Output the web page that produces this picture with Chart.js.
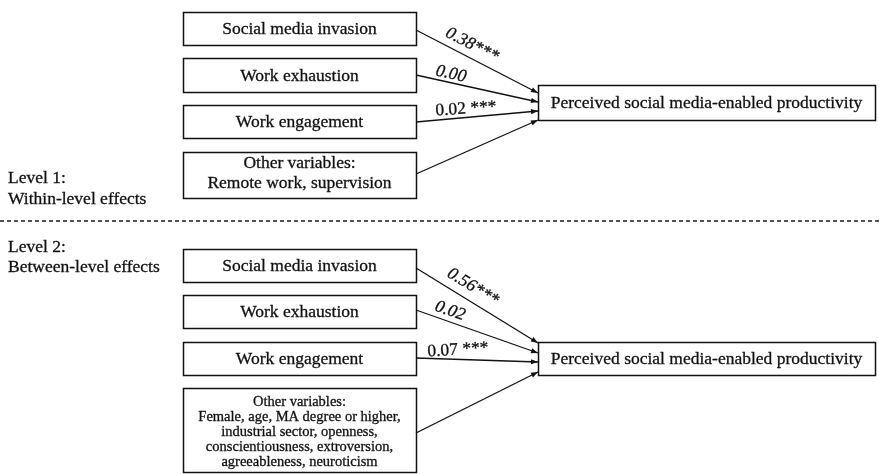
<!DOCTYPE html>
<html>
<head>
<meta charset="utf-8">
<script src="https://cdn.jsdelivr.net/npm/chart.js@4.4.1/dist/chart.umd.min.js"></script>
<style>
  html, body { margin: 0; padding: 0; background: #fff; }
  canvas { display: block; }
</style>
</head>
<body>
<canvas id="paths" width="879" height="474"></canvas>
<script>
// values
const levelLabels = [['Level 1:', 'Within-level effects'], ['Level 2:', 'Between-level effects']];
const predictors = ['Social media invasion', 'Work exhaustion', 'Work engagement'];
const otherVars = [
  ['Other variables:', 'Remote work, supervision'],
  ['Other variables:', 'Female, age, MA degree or higher,', 'industrial sector, openness,',
   'conscientiousness, extroversion,', 'agreeableness, neuroticism']
];
const outcome = 'Perceived social media-enabled productivity';
const coefL1 = [0.38, 0.00, 0.02];
const sigL1 = ['***', '', '***'];
const coefL2 = [0.56, 0.02, 0.07];
const sigL2 = ['***', '', '***'];

// layout (canvas units)
const FONT = '"Liberation Serif", "Times New Roman", serif';
const INK = '#111';
const panels = [
  {
    label: { x: 8, y: [178, 199] },
    boxes: [[183, 12, 233, 33], [183, 58, 233, 34], [183, 105, 233, 33], [183, 152, 233, 46]],
    otherLines: [163, 183], otherSize: 17.5,
    target: [538, 85, 337, 35],
    ends: [93, 102, 111, 120],
    starts: [30, 75, 122, 174],
    coefs: coefL1, sigs: sigL1,
    tags: [{ c: [472, 45], rot: true }, { c: [451, 74], rot: true }, { c: [466, 109], rot: false }]
  },
  {
    label: { x: 8, y: [247, 267] },
    boxes: [[183, 249, 233, 33], [183, 295, 233, 33], [183, 342, 233, 33], [183, 388, 233, 84]],
    otherLines: [402, 417, 432, 447, 462], otherSize: 14.5,
    target: [538, 342, 337, 33],
    ends: [343, 353, 362, 372],
    starts: [268, 310, 358, 433],
    coefs: coefL2, sigs: sigL2,
    tags: [{ c: [473, 287], rot: true }, { c: [450, 311], rot: true }, { c: [458, 350], rot: false }]
  }
];
const dividerY = 221;

const datasets = [];
panels.forEach((p) => {
  p.starts.forEach((sy, i) => {
    datasets.push({
      data: [{ x: p.boxes[i][0] + p.boxes[i][2], y: sy }, { x: p.target[0], y: p.ends[i] }],
      showLine: true, borderColor: INK, borderWidth: 1.3, pointRadius: 0, arrow: true
    });
  });
});
datasets.push({
  data: [{ x: 0, y: dividerY }, { x: 879, y: dividerY }],
  showLine: true, borderColor: '#1a1a1a', borderWidth: 1.4, borderDash: [4, 3], pointRadius: 0
});

// fill + thin stroke to get the heavier print look of the source
function ink(ctx, t, x, y) {
  ctx.fillText(t, x, y);
  ctx.lineWidth = 0.3;
  ctx.strokeText(t, x, y);
}

const diagram = {
  id: 'diagram',
  afterDatasetsDraw(chart) {
    const { ctx, scales: { x, y } } = chart;
    const px = (v) => x.getPixelForValue(v);
    const py = (v) => y.getPixelForValue(v);
    ctx.save();
    ctx.fillStyle = INK;
    ctx.strokeStyle = INK;

    // arrowheads
    chart.data.datasets.forEach((ds) => {
      if (!ds.arrow) return;
      const a = ds.data[0], b = ds.data[1];
      const x1 = px(a.x), y1 = py(a.y), x2 = px(b.x), y2 = py(b.y);
      const ang = Math.atan2(y2 - y1, x2 - x1);
      ctx.save();
      ctx.translate(x2, y2);
      ctx.rotate(ang);
      ctx.beginPath();
      ctx.moveTo(0, 0);
      ctx.lineTo(-7, -2.6);
      ctx.lineTo(-7, 2.6);
      ctx.closePath();
      ctx.fill();
      ctx.restore();
    });

    const box = (r) => {
      ctx.lineWidth = 1.5;
      ctx.strokeRect(Math.round(px(r[0])) + 0.5, Math.round(py(r[1])) + 0.5,
        Math.round(px(r[0] + r[2]) - px(r[0])), Math.round(py(r[1] + r[3]) - py(r[1])));
    };

    ctx.textBaseline = 'middle';
    panels.forEach((p, k) => {
      // level labels
      ctx.textAlign = 'left';
      ctx.font = '17.5px ' + FONT;
      levelLabels[k].forEach((t, j) => ink(ctx, t, px(p.label.x), py(p.label.y[j])));

      // predictor boxes
      ctx.textAlign = 'center';
      predictors.forEach((t, i) => {
        const r = p.boxes[i];
        box(r);
        ink(ctx, t, px(r[0] + r[2] / 2), py(r[1] + r[3] / 2) + 1);
      });
      const ro = p.boxes[3];
      box(ro);
      ctx.font = p.otherSize + 'px ' + FONT;
      otherVars[k].forEach((t, j) => ink(ctx, t, px(ro[0] + ro[2] / 2), py(p.otherLines[j])));

      // outcome box
      ctx.font = '17.5px ' + FONT;
      box(p.target);
      ink(ctx, outcome, px(p.target[0] + p.target[2] / 2), py(p.target[1] + p.target[3] / 2) + 1);

      // coefficients
      p.tags.forEach((tg, i) => {
        const ds = datasets[k * 4 + i];
        const a = ds.data[0], b = ds.data[1];
        const ang = Math.atan2(py(b.y) - py(a.y), px(b.x) - px(a.x));
        const v = p.coefs[i].toFixed(2);
        ctx.save();
        ctx.translate(px(tg.c[0]), py(tg.c[1]));
        if (tg.rot) {
          ctx.rotate(ang);
          ctx.font = 'italic 17.5px ' + FONT;
          ink(ctx, v + p.sigs[i], 0, 0);
        } else {
          ctx.rotate(-0.06);
          ctx.font = '17.5px ' + FONT;
          ink(ctx, v + (p.sigs[i] ? ' ' + p.sigs[i] : ''), 0, 0);
        }
        ctx.restore();
      });
    });
    ctx.restore();
  }
};

new Chart(document.getElementById('paths'), {
  type: 'scatter',
  data: { datasets },
  options: {
    responsive: false,
    animation: false,
    devicePixelRatio: 1,
    layout: { padding: 0 },
    plugins: { legend: { display: false }, tooltip: { enabled: false } },
    scales: {
      x: { type: 'linear', min: 0, max: 879, display: false },
      y: { type: 'linear', min: 0, max: 474, reverse: true, display: false }
    }
  },
  plugins: [diagram]
});
</script>
</body>
</html>
